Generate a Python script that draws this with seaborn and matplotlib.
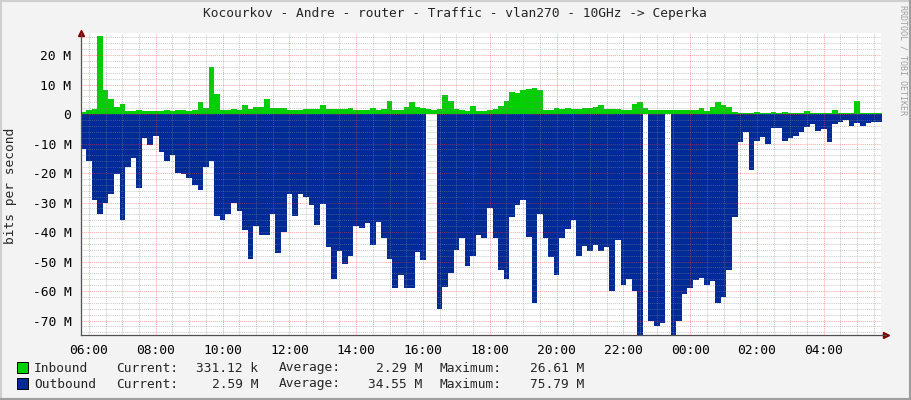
import numpy as np
import pandas as pd
import matplotlib
matplotlib.use("Agg")
import matplotlib.pyplot as plt
import seaborn as sns
from matplotlib.ticker import MultipleLocator, FixedLocator
from matplotlib.patches import Rectangle
from matplotlib.lines import Line2D

# 10 minute samples, first one at 05:45, hours counted from 06:00, values in Mbit/s
start_hour = -0.25
step_hours = 1 / 6

inbound = [
    0.8, 1.4, 1.8, 26.6, 8.0, 5.0, 2.5, 3.5, 1.1, 1.0,
    1.3, 1.0, 1.0, 1.1, 1.1, 1.3, 1.1, 1.2, 1.3, 1.1,
    1.5, 4.0, 2.1, 15.8, 6.8, 1.5, 1.3, 1.6, 1.3, 3.0,
    1.6, 2.4, 2.5, 5.0, 2.2, 1.9,
    2.0, 1.5, 1.2, 1.3, 1.6, 1.6, 1.8, 3.0, 1.6, 1.6,
    1.6, 1.6, 2.2, 1.3, 1.3, 1.3, 2.0, 1.3, 1.8, 4.5,
    1.4, 1.3, 2.4, 4.0, 2.5, 2.0, 1.6, 1.4, 1.6, 6.5,
    4.5, 1.7, 1.3, 1.1, 2.7, 1.1,
    1.1, 1.4, 1.8, 2.7, 4.5, 7.5, 7.0, 8.0, 8.6, 8.9,
    8.0, 1.5, 1.3, 1.9, 1.6, 2.0, 1.6, 1.8, 2.0, 2.2,
    2.3, 3.0, 1.6, 1.6, 1.6, 1.3, 1.3, 3.5, 4.0, 2.2,
    1.3, 1.3, 1.3, 1.3, 1.5, 1.3,
    1.3, 1.3, 1.3, 2.0, 1.0, 2.5, 4.0, 3.2, 2.4, 0.8,
    0.45, 0.45, 0.45, 0.6, 0.45, 0.45, 0.7, 0.45, 0.6, 0.45,
    0.45, 0.5, 1.1, 0.45, 0.45, 0.45, 0.45, 1.4, 0.45, 0.45,
    0.45, 4.5, 0.45, 0.4, 0.35, 0.33,
]

# nan = unknown sample (gap in the graph)
outbound = [
    12.0, 15.9, 29.0, 34.0, 30.0, 27.0, 20.5, 36.0, 18.0, 15.0,
    25.0, 8.0, 10.5, 7.5, 13.0, 16.0, 14.0, 20.0, 20.2, 21.8,
    24.0, 25.8, 18.0, 15.8, 34.5, 36.0, 34.0, 30.0, 33.0, 39.3,
    49.0, 38.0, 41.0, 41.0, 34.0, 47.0,
    39.9, 27.0, 34.5, 27.0, 28.0, 31.0, 37.5, 30.5, 45.0, 56.0,
    46.5, 51.0, 48.0, 38.0, 38.5, 37.0, 44.5, 36.5, 42.0, 49.0,
    59.0, 54.5, 59.0, 59.0, 46.7, 49.5, np.nan, np.nan, 66.0, 58.5,
    54.0, 46.0, 42.0, 51.5, 48.0, 41.0,
    42.0, 32.0, 42.0, 53.0, 56.0, 35.0, 31.0, 29.0, 41.6, 64.0,
    34.0, 42.0, 48.5, 54.5, 42.0, 39.0, 36.0, 48.0, 44.7, 46.5,
    44.4, 46.5, 45.0, 60.0, 42.6, 58.0, 56.0, 60.0, 75.79, np.nan,
    70.0, 72.0, 71.0, np.nan, 75.0, 70.0,
    61.0, 59.0, 56.3, 55.5, 58.0, 56.5, 64.0, 62.0, 53.0, 35.0,
    9.5, 6.0, 19.0, 9.0, 7.7, 10.0, 4.9, 4.9, 9.0, 8.0,
    7.5, 6.0, 4.5, 3.4, 5.9, 5.0, 9.5, 3.5, 2.6, 2.0,
    3.9, 3.2, 3.9, 2.9, 2.6, 2.59,
]

hour_ticks = [0, 2, 4, 6, 8, 10, 12, 14, 16, 18, 20, 22]
hour_labels = ["06:00", "08:00", "10:00", "12:00", "14:00", "16:00",
               "18:00", "20:00", "22:00", "00:00", "02:00", "04:00"]
y_ticks = [20, 10, 0, -10, -20, -30, -40, -50, -60, -70]
y_labels = ["20 M", "10 M", "0", "-10 M", "-20 M", "-30 M", "-40 M",
            "-50 M", "-60 M", "-70 M"]

title = "Kocourkov - Andre - router - Traffic - vlan270 - 10GHz -> Ceperka"
legend_names = ["Inbound", "Outbound"]
legend_current = ["331.12 k", "2.59 M"]
legend_average = ["2.29 M", "34.55 M"]
legend_maximum = ["26.61 M", "75.79 M"]

green = "#00CF00"
blue = "#002A97"

df = pd.DataFrame({"inbound": inbound, "outbound": outbound})
df["hour"] = start_hour + step_hours * np.arange(len(df))

sns.set_theme(style="white")
plt.rcParams["font.family"] = ["DejaVu Sans Mono"]
fsize = 9.3

W, H = 911, 400
fig = plt.figure(figsize=(W / 100, H / 100), dpi=100)
fig.patch.set_facecolor("#F3F3F3")
ax = fig.add_axes([81 / W, (H - 335) / H, 800 / W, 302 / H])
ax.set_facecolor("white")

# step areas, last sample held to the end of its interval
x_edges = np.append(df["hour"].values, df["hour"].values[-1] + step_hours)
inb = np.append(df["inbound"].values, df["inbound"].values[-1])
outb = np.nan_to_num(np.append(df["outbound"].values, df["outbound"].values[-1]))
ax.fill_between(x_edges, 0, inb, step="post", color=green, linewidth=0)
ax.fill_between(x_edges, 0, -outb, step="post", color=blue, linewidth=0)

ax.set_xlim(-0.2395, 23.713)
ax.set_ylim(-74.9, 27.46)

ax.xaxis.set_major_locator(FixedLocator(hour_ticks))
ax.set_xticklabels(hour_labels)
ax.xaxis.set_minor_locator(MultipleLocator(0.5))
ax.yaxis.set_major_locator(FixedLocator(y_ticks))
ax.set_yticklabels(y_labels)
ax.yaxis.set_minor_locator(MultipleLocator(2))

ax.set_axisbelow(False)
ax.grid(which="minor", color="#8C8C8C", alpha=0.45, linewidth=0.75, linestyle=(0, (1, 1)))
ax.grid(which="major", color="#FF4040", alpha=0.45, linewidth=0.75, linestyle=(0, (1, 1)))

ax.tick_params(which="both", direction="out", color="#707070", width=0.75,
               labelsize=fsize, labelcolor="black")
ax.tick_params(which="major", length=2.5)
ax.tick_params(which="minor", length=1.5)
ax.tick_params(axis="y", pad=4.5)
ax.tick_params(axis="x", pad=4.0)

sns.despine(ax=ax, top=True, right=True)
for side in ["left", "bottom"]:
    ax.spines[side].set_color("#505050")
    ax.spines[side].set_linewidth(0.9)

# axis arrows
ax.plot([0], [1.0], marker="^", markersize=5, color="#800000",
        transform=ax.transAxes, clip_on=False)
ax.plot([1.006], [0], marker=">", markersize=5, color="#800000",
        transform=ax.transAxes, clip_on=False)
ax.plot([1.0, 1.006], [0, 0], color="#505050", linewidth=0.9,
        transform=ax.transAxes, clip_on=False)

def px(x, y):
    return x / W, 1 - y / H

fig.text(*px(455, 13), title, ha="center", va="center", fontsize=fsize)
fig.text(*px(11, 186), "bits per second", ha="center", va="center",
         rotation=90, fontsize=fsize)
fig.text(*px(903, 5), "RRDTOOL / TOBI OETIKER", ha="center", va="top",
         rotation=270, fontsize=6, color="#A0A0A0")

for i, (name, col) in enumerate(zip(legend_names, [green, blue])):
    yc = 368 + 16 * i
    fig.patches.append(Rectangle(px(17, yc + 5), 11 / W, 11 / H,
                                 transform=fig.transFigure, facecolor=col,
                                 edgecolor="black", linewidth=0.7))
    fig.text(*px(34, yc), name, ha="left", va="center", fontsize=fsize)
    fig.text(*px(116, yc), "Current:", ha="left", va="center", fontsize=fsize)
    fig.text(*px(258, yc), legend_current[i], ha="right", va="center", fontsize=fsize)
    fig.text(*px(279, yc), "Average:", ha="left", va="center", fontsize=fsize)
    fig.text(*px(422, yc), legend_average[i], ha="right", va="center", fontsize=fsize)
    fig.text(*px(440, yc), "Maximum:", ha="left", va="center", fontsize=fsize)
    fig.text(*px(584, yc), legend_maximum[i], ha="right", va="center", fontsize=fsize)

# shaded canvas frame
frame = [((0, 0), (0, H), "#CFCFCF"), ((0, W), (H, H), "#CFCFCF"),
         ((W, W), (0, H), "#9E9E9E"), ((0, W), (0, 0), "#9E9E9E")]
for xs, ys, c in frame:
    fig.lines.append(Line2D([x / W for x in xs], [y / H for y in ys],
                            transform=fig.transFigure, color=c, linewidth=3))

fig.savefig("out.png", dpi=100, facecolor=fig.get_facecolor())
